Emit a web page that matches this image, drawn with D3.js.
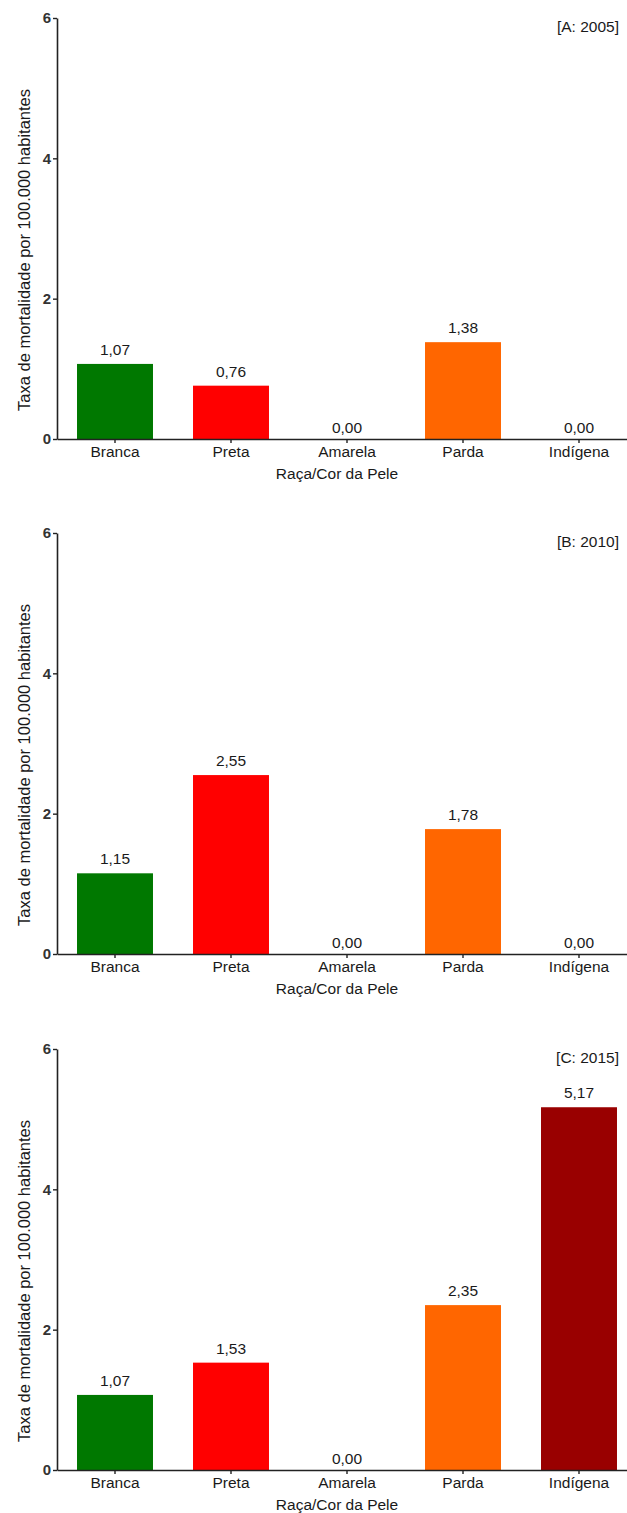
<!DOCTYPE html>
<html>
<head>
<meta charset="utf-8">
<script src="https://cdn.jsdelivr.net/npm/d3@7"></script>
<style>
  html, body { margin: 0; padding: 0; background: #fff; }
  svg { display: block; font-family: "Liberation Sans", Arial, sans-serif; }
</style>
</head>
<body>
<svg id="chart" width="627" height="1513"></svg>
<script>
// Mortality rate per 100,000 inhabitants by race/skin colour, three survey years
const categories = ["Branca", "Preta", "Amarela", "Parda", "Indígena"];
const colors = ["#007800", "#ff0000", "#ff0000", "#ff6600", "#990000"];
const panelTitles = ["[A: 2005]", "[B: 2010]", "[C: 2015]"];
const values2005 = [1.07, 0.76, 0.00, 1.38, 0.00];
const values2010 = [1.15, 2.55, 0.00, 1.78, 0.00];
const values2015 = [1.07, 1.53, 0.00, 2.35, 5.17];
const yTicks = [0, 2, 4, 6];
const yLabel = "Taxa de mortalidade por 100.000 habitantes";
const xLabel = "Raça/Cor da Pele";

const series = [values2005, values2010, values2015];
const panelTops = [18, 533, 1049];
const plotH = 421;
const left = 57, right = 637;

const svg = d3.select("#chart");
const fmt = v => v.toFixed(2).replace(".", ",");

const x = d3.scaleBand()
  .domain(categories)
  .range([left, right])
  .paddingInner(0.345)
  .paddingOuter(0.1725);

series.forEach((vals, p) => {
  const top = panelTops[p];
  const y = d3.scaleLinear().domain([0, 6]).range([top + plotH, top]);
  const g = svg.append("g");
  const data = categories.map((c, i) => ({ c, v: vals[i], col: colors[i] }));

  // bars
  g.selectAll("rect.bar").data(data).join("rect")
    .attr("class", "bar")
    .attr("x", d => x(d.c))
    .attr("width", x.bandwidth())
    .attr("y", d => y(d.v))
    .attr("height", d => y(0) - y(d.v))
    .attr("fill", d => d.col);

  // value labels
  g.selectAll("text.val").data(data).join("text")
    .attr("class", "val")
    .attr("x", d => x(d.c) + x.bandwidth() / 2)
    .attr("y", d => y(d.v) - (d.v > 0 ? 9 : 6))
    .attr("text-anchor", "middle")
    .attr("font-size", 15.5)
    .attr("fill", "#1a1a1a")
    .text(d => fmt(d.v));

  // y axis
  const ya = g.append("g")
    .attr("transform", `translate(${left},0)`)
    .call(d3.axisLeft(y).tickValues(yTicks).tickSize(4).tickSizeOuter(0).tickFormat(d3.format("d")));
  ya.select(".domain").attr("stroke", "#222").attr("stroke-width", 1.6);
  ya.selectAll(".tick line").attr("stroke", "#222").attr("stroke-width", 1.4);
  ya.selectAll(".tick text")
    .attr("x", -6)
    .attr("font-size", 15)
    .attr("font-weight", "bold")
    .attr("font-family", "Liberation Sans, Arial, sans-serif")
    .attr("fill", "#333");

  // x axis
  const xa = g.append("g")
    .attr("transform", `translate(0,${y(0)})`)
    .call(d3.axisBottom(x).tickSize(4).tickSizeOuter(0));
  xa.select(".domain").attr("stroke", "#222").attr("stroke-width", 1.6);
  xa.selectAll(".tick line").attr("stroke", "#222").attr("stroke-width", 1.4);
  xa.selectAll(".tick text")
    .attr("y", 7)
    .attr("font-size", 15.5)
    .attr("font-family", "Liberation Sans, Arial, sans-serif")
    .attr("fill", "#1a1a1a");

  // axis titles
  g.append("text")
    .attr("x", (left + right) / 2 - 10)
    .attr("y", y(0) + 40)
    .attr("text-anchor", "middle")
    .attr("font-size", 15.5)
    .attr("fill", "#1a1a1a")
    .text(xLabel);

  g.append("text")
    .attr("transform", `translate(30,${top + 232}) rotate(-90)`)
    .attr("text-anchor", "middle")
    .attr("font-size", 16.5)
    .attr("fill", "#1a1a1a")
    .text(yLabel);

  // panel tag
  g.append("text")
    .attr("x", 619)
    .attr("y", top + 14)
    .attr("text-anchor", "end")
    .attr("font-size", 15.5)
    .attr("fill", "#1a1a1a")
    .text(panelTitles[p]);
});
</script>
</body>
</html>
